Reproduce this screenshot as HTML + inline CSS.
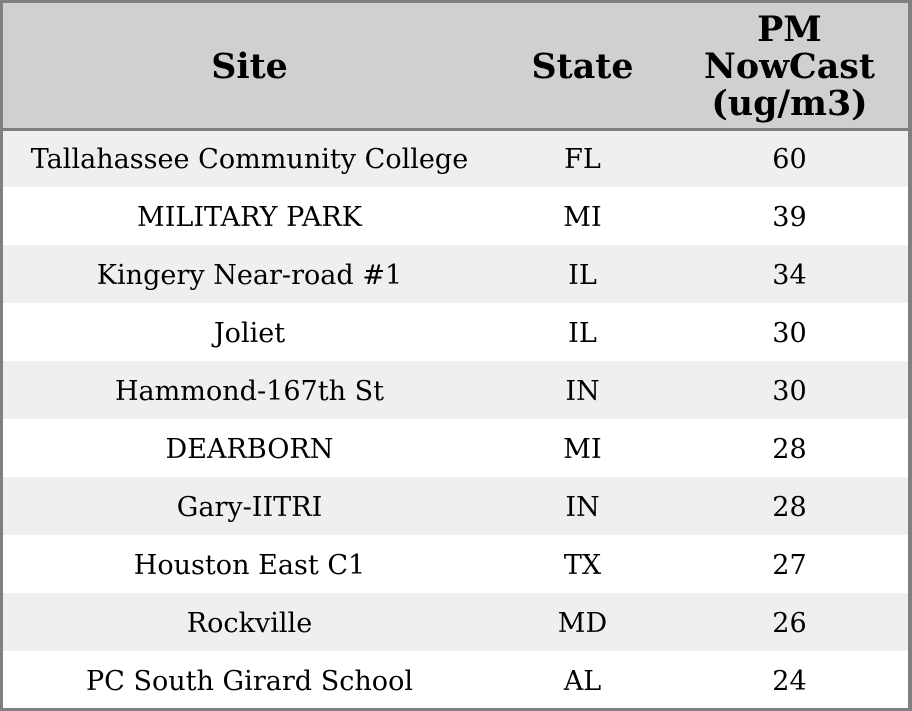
<!DOCTYPE html>
<html><head><meta charset="utf-8"><style>
*{margin:0;padding:0;box-sizing:border-box}
html,body{width:912px;height:711px;overflow:hidden;background:#fff}
body{position:relative;font-family:"DejaVu Serif","Liberation Serif",serif;color:#000}
.frame{position:absolute;left:0;top:0;width:912px;height:711px;border:3px solid #808080;border-right-width:4px;z-index:5;pointer-events:none}
.hdr{position:absolute;left:0;top:0;width:912px;height:129px;background:#d0d0d0}
.hline{position:absolute;left:0;top:128px;width:912px;height:3px;background:#808080;z-index:4}
.hc{position:absolute;top:4px;height:125px;display:flex;align-items:center;justify-content:center;text-align:center;font-weight:bold;font-size:34.8px;line-height:37.3px}
.row{position:absolute;left:0;width:912px;height:58px}
.row.g{background:#efefef}
.c{position:absolute;top:2px;height:58px;line-height:58px;text-align:center;font-size:27.05px;white-space:nowrap}
.c1{left:3px;width:493px}
.c2{left:496px;width:173px}
.c3{left:669px;width:241px}
</style></head><body>
<div class="hdr"></div>
<div class="hc c1">Site</div>
<div class="hc c2">State</div>
<div class="hc c3">PM<br>NowCast<br>(ug/m3)</div>
<div class="hline"></div>

<div class="row g" style="top:129px"><div class="c c1">Tallahassee Community College</div><div class="c c2">FL</div><div class="c c3">60</div></div>
<div class="row" style="top:187px"><div class="c c1">MILITARY PARK</div><div class="c c2">MI</div><div class="c c3">39</div></div>
<div class="row g" style="top:245px"><div class="c c1">Kingery Near-road #1</div><div class="c c2">IL</div><div class="c c3">34</div></div>
<div class="row" style="top:303px"><div class="c c1">Joliet</div><div class="c c2">IL</div><div class="c c3">30</div></div>
<div class="row g" style="top:361px"><div class="c c1">Hammond-167th St</div><div class="c c2">IN</div><div class="c c3">30</div></div>
<div class="row" style="top:419px"><div class="c c1">DEARBORN</div><div class="c c2">MI</div><div class="c c3">28</div></div>
<div class="row g" style="top:477px"><div class="c c1">Gary-IITRI</div><div class="c c2">IN</div><div class="c c3">28</div></div>
<div class="row" style="top:535px"><div class="c c1">Houston East C1</div><div class="c c2">TX</div><div class="c c3">27</div></div>
<div class="row g" style="top:593px"><div class="c c1">Rockville</div><div class="c c2">MD</div><div class="c c3">26</div></div>
<div class="row" style="top:651px"><div class="c c1">PC South Girard School</div><div class="c c2">AL</div><div class="c c3">24</div></div>

<div class="frame"></div>
</body></html>
